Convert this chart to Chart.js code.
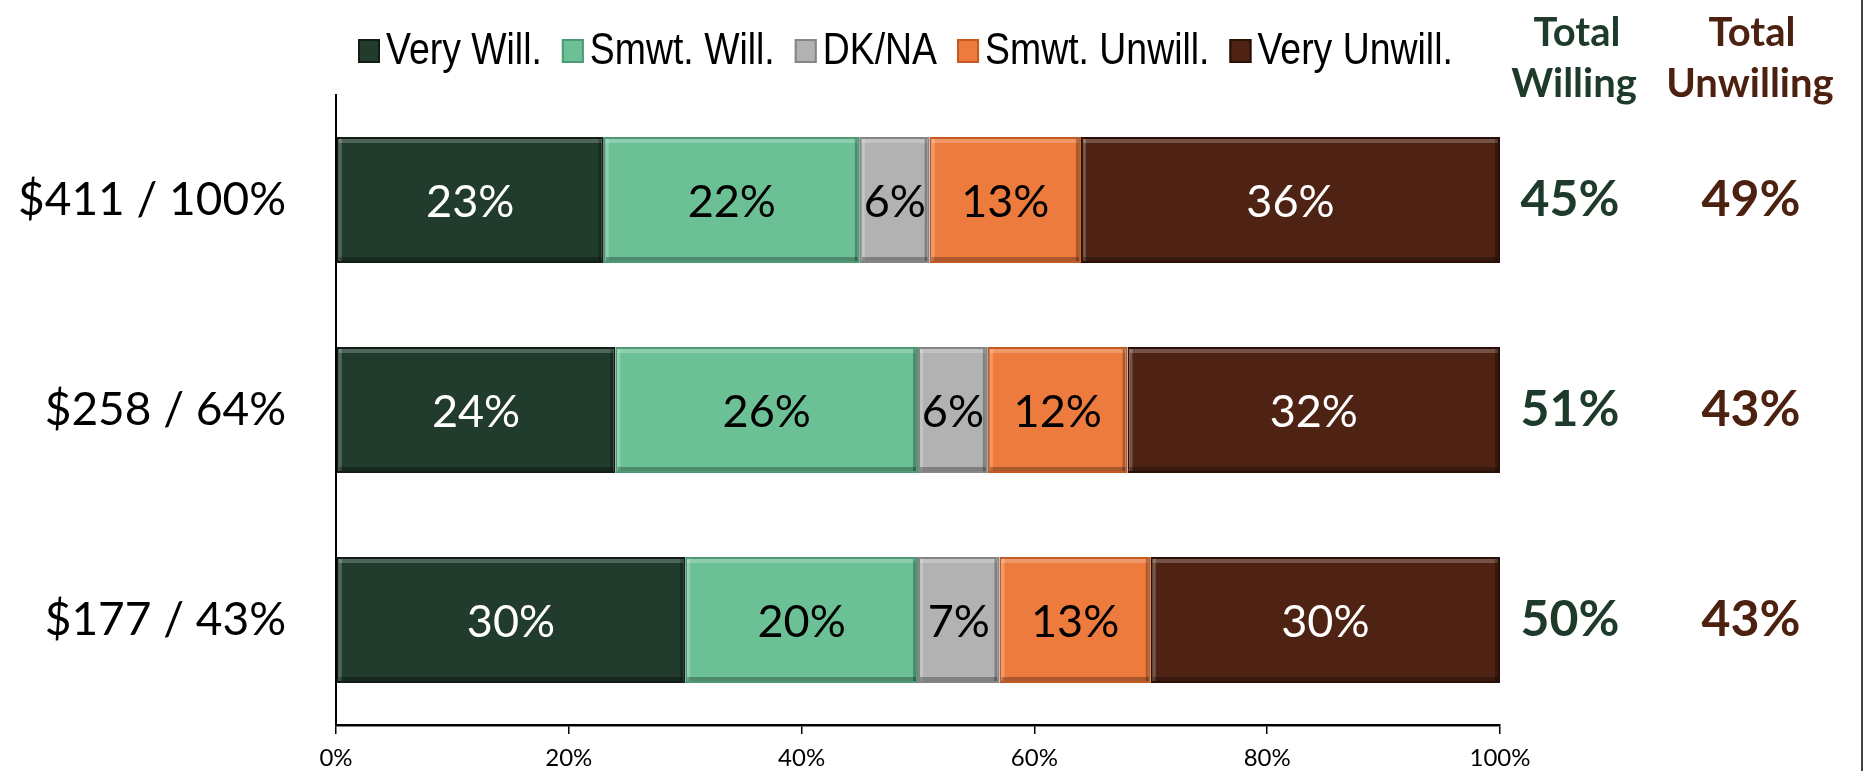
<!DOCTYPE html>
<html>
<head>
<meta charset="utf-8">
<script src="https://cdn.jsdelivr.net/npm/chart.js@4.4.1/dist/chart.umd.min.js"></script>
<style>
  html, body { margin: 0; padding: 0; background: #fff; }
  #wrap { position: relative; width: 1867px; height: 771px; }
  canvas { display: block; }
</style>
</head>
<body>
<div id="wrap">
  <canvas id="chart1" width="1867" height="771"></canvas>
</div>
<script>
var categories = ['$411 / 100%', '$258 / 64%', '$177 / 43%'];
var seriesNames = ['Very Will.', 'Smwt. Will.', 'DK/NA', 'Smwt. Unwill.', 'Very Unwill.'];
var veryWilling = [23, 24, 30];
var smwtWilling = [22, 26, 20];
var dkna = [6, 6, 7];
var smwtUnwilling = [13, 12, 13];
var veryUnwilling = [36, 32, 30];
var totalWilling = [45, 51, 50];
var totalUnwilling = [49, 43, 43];
var xTicks = [0, 20, 40, 60, 80, 100];

var fillColors = ['#213b2d', '#6cc096', '#b2b2b2', '#ee7b3e', '#4f2313'];
var edgeColors = ['#111d16', '#4e9a74', '#858585', '#c35a22', '#2a0f07'];
var labelColors = ['#fff', '#000', '#000', '#000', '#fff'];
var seriesData = [veryWilling, smwtWilling, dkna, smwtUnwilling, veryUnwilling];

var extras = {
  id: 'extras',
  afterDatasetsDraw: function(chart) {
    var ctx = chart.ctx;
    ctx.save();

    // bevel look on every bar
    chart.data.datasets.forEach(function(ds, di) {
      chart.getDatasetMeta(di).data.forEach(function(bar) {
        var l = Math.min(bar.x, bar.base), r = Math.max(bar.x, bar.base);
        var t = bar.y - bar.height / 2, b = bar.y + bar.height / 2;
        ctx.fillStyle = 'rgba(255,255,255,0.22)';
        ctx.fillRect(l + 2, t + 2, r - l - 4, 4);
        ctx.fillRect(l + 2, t + 2, 3, b - t - 4);
        ctx.fillStyle = 'rgba(0,0,0,0.28)';
        ctx.fillRect(l + 2, b - 6, r - l - 4, 4);
        ctx.fillRect(r - 5, t + 2, 3, b - t - 4);
      });
    });

    // values inside the bars
    ctx.font = '45px Lato';
    ctx.textAlign = 'center';
    ctx.textBaseline = 'middle';
    chart.data.datasets.forEach(function(ds, di) {
      chart.getDatasetMeta(di).data.forEach(function(bar, i) {
        ctx.fillStyle = labelColors[di];
        ctx.fillText(ds.data[i] + '%', (bar.x + bar.base) / 2, bar.y + 2);
      });
    });

    // totals columns
    var y = chart.scales.y;
    ctx.font = 'bold 50px Lato';
    categories.forEach(function(c, i) {
      var py = y.getPixelForValue(i);
      ctx.fillStyle = '#1d3a2a';
      ctx.fillText(totalWilling[i] + '%', 1570, py);
      ctx.fillStyle = '#4d2110';
      ctx.fillText(totalUnwilling[i] + '%', 1751, py);
    });

    ctx.font = 'bold 40px Lato';
    ctx.textBaseline = 'alphabetic';
    ctx.fillStyle = '#1d3a2a';
    ctx.fillText('Total', 1577, 46);
    ctx.fillText('Willing', 1574, 97);
    ctx.fillStyle = '#4d2110';
    ctx.fillText('Total', 1752, 46);
    ctx.fillText('Unwilling', 1750, 97);

    // legend, narrow font made by squeezing Liberation Sans
    ctx.font = '44px "Liberation Sans"';
    ctx.textAlign = 'left';
    ctx.textBaseline = 'middle';
    var lx = 358;
    seriesNames.forEach(function(name, i) {
      ctx.fillStyle = fillColors[i];
      ctx.fillRect(lx, 39, 22, 24);
      ctx.strokeStyle = edgeColors[i];
      ctx.lineWidth = 2;
      ctx.strokeRect(lx + 1, 40, 20, 22);
      var tx = lx + 28;
      var w = ctx.measureText(name).width * 0.85;
      ctx.save();
      ctx.translate(tx, 52);
      ctx.scale(0.85, 1);
      ctx.fillStyle = '#000';
      ctx.fillText(name, 0, 0);
      ctx.restore();
      lx = tx + w + 20;
    });

    // right frame line
    ctx.strokeStyle = '#444';
    ctx.lineWidth = 2;
    ctx.beginPath();
    ctx.moveTo(1862, 0);
    ctx.lineTo(1862, 771);
    ctx.stroke();
    ctx.restore();
  }
};

var ctx = document.getElementById('chart1');
var myChart = new Chart(ctx, {
  type: 'bar',
  data: {
    labels: categories,
    datasets: seriesNames.map(function(name, i) {
      return {
        label: name,
        data: seriesData[i],
        backgroundColor: fillColors[i],
        borderColor: edgeColors[i],
        borderWidth: 2,
        borderSkipped: false,
        barPercentage: 0.6,
        categoryPercentage: 1
      };
    })
  },
  options: {
    responsive: false,
    animation: false,
    indexAxis: 'y',
    layout: { padding: { top: 95, right: 367, left: 0, bottom: 0 } },
    plugins: { legend: { display: false }, tooltip: { enabled: false } },
    scales: {
      x: {
        stacked: true,
        min: 0,
        max: 100,
        afterBuildTicks: function(s) { s.ticks = xTicks.map(function(v) { return { value: v }; }); },
        afterFit: function(s) { s.height = 46; },
        ticks: {
          callback: function(v) { return v + '%'; },
          font: { family: 'Lato', size: 24 },
          color: '#000',
          padding: 10,
          maxRotation: 0
        },
        grid: { display: true, drawOnChartArea: false, drawTicks: true, tickLength: 9, color: '#000', lineWidth: 1.5 },
        border: { display: true, color: '#000', width: 2.5 }
      },
      y: {
        stacked: true,
        afterFit: function(s) { s.width = 336; s.paddingTop = 0; s.paddingBottom = 0; },
        ticks: { font: { family: 'Lato', size: 46 }, color: '#000', padding: 42 },
        grid: { display: false },
        border: { display: true, color: '#000', width: 2 }
      }
    }
  },
  plugins: [extras]
});
</script>
</body>
</html>
